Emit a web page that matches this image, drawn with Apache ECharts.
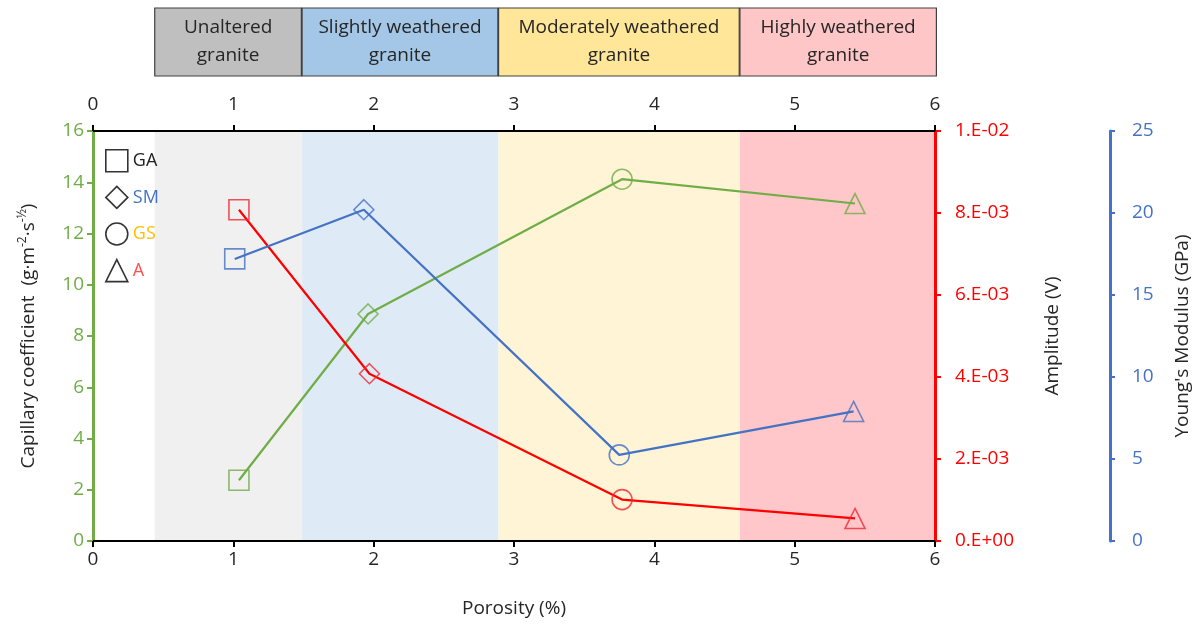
<!DOCTYPE html>
<html>
<head>
<meta charset="utf-8">
<script src="https://cdn.jsdelivr.net/npm/echarts@6/dist/echarts.min.js"></script>
<style>html,body{margin:0;padding:0;background:#fff}#c{width:1200px;height:628px}</style>
</head>
<body>
<div id="c"></div>
<script>
// ---- data ----
var samples = ['GA', 'SM', 'GS', 'A'];
var sampleSymbols = ['rect', 'diamond', 'circle', 'triangle'];
var sampleTextColors = ['#222222', '#4472C4', '#FFC000', '#FF5050'];

var capPorosity = [1.04, 1.96, 3.77, 5.43];
var capValues = [2.37, 8.86, 14.12, 13.17];

var ampPorosity = [1.04, 1.97, 3.77, 5.43];
var ampValues = [8.08e-3, 4.08e-3, 1.01e-3, 0.55e-3];

var ymPorosity = [1.01, 1.93, 3.75, 5.42];
var ymValues = [17.2, 20.2, 5.25, 7.9];

var stageNames = ['Unaltered\ngranite', 'Slightly weathered\ngranite', 'Moderately weathered\ngranite', 'Highly weathered\ngranite'];
var stageEdges = [0.44, 1.49, 2.89, 4.61, 6.0];
var stageBoxColors = ['#BFBFBF', '#A4C7E7', '#FFE699', '#FFC6C8'];
var stageBandColors = ['#F0F0F0', '#DEEBF7', '#FFF4D6', '#FFC7C9'];

var ampTickLabels = ['0.E+00', '2.E-03', '4.E-03', '6.E-03', '8.E-03', '1.E-02'];

var FONT = 'Open Sans';
var FS = 19;
var GREEN = '#70AD47', RED = '#FF0000', BLUE = '#4472C4';

function pts(xs, ys) {
  return xs.map(function (x, i) {
    return { value: [x, ys[i]], symbol: sampleSymbols[i] };
  });
}

var bandAreas = stageNames.map(function (n, i) {
  return [{ xAxis: stageEdges[i], itemStyle: { color: stageBandColors[i] } }, { xAxis: stageEdges[i + 1] }];
});

var boxData = stageNames.map(function (n, i) {
  return { value: [stageEdges[i], stageEdges[i + 1] + (i === 3 ? 0.01 : -0.005)], name: n, color: stageBoxColors[i] };
});

var chart = echarts.init(document.getElementById('c'), null, { renderer: 'canvas' });

function lineSeries(name, xs, ys, yIdx, color, markerColor, extra) {
  var s = {
    name: name,
    type: 'line',
    xAxisIndex: 0,
    yAxisIndex: yIdx,
    data: pts(xs, ys),
    symbolSize: 20,
    showAllSymbol: true,
    lineStyle: { color: color, width: 2.2 },
    itemStyle: { color: 'rgba(0,0,0,0)', borderColor: markerColor, borderWidth: 1.6 },
    emphasis: { disabled: true },
    z: 3
  };
  if (extra) for (var k in extra) s[k] = extra[k];
  return s;
}

var series = [
  lineSeries('Capillary', capPorosity, capValues, 0, GREEN, 'rgba(112,173,71,0.8)', {
    markArea: { silent: true, data: bandAreas, z: 0 }
  }),
  lineSeries('Amplitude', ampPorosity, ampValues, 1, RED, 'rgba(240,40,50,0.8)'),
  lineSeries('Young', ymPorosity, ymValues, 2, BLUE, 'rgba(68,114,196,0.8)'),
  {
    type: 'custom',
    xAxisIndex: 2,
    yAxisIndex: 3,
    data: boxData,
    silent: true,
    renderItem: function (params, api) {
      var d = boxData[params.dataIndex];
      var p0 = api.coord([api.value(0), 1]);
      var p1 = api.coord([api.value(1), 0]);
      return {
        type: 'rect',
        shape: { x: p0[0], y: p0[1], width: p1[0] - p0[0], height: p1[1] - p0[1] },
        style: { fill: d.color, stroke: '#404040', lineWidth: 1.2 },
        textContent: {
          style: { text: d.name, fill: '#262626', font: FS + 'px "' + FONT + '"', align: 'center', lineHeight: 28 }
        },
        textConfig: { position: 'inside' }
      };
    }
  }
];

samples.forEach(function (s, i) {
  series.push({ name: s, type: 'scatter', xAxisIndex: 0, yAxisIndex: 0, data: [], symbol: sampleSymbols[i] });
});

var option = {
  backgroundColor: '#ffffff',
  animation: false,
  textStyle: { fontFamily: FONT },
  grid: [
    { left: 93, right: 265, top: 131, bottom: 87, containLabel: false },
    { left: 93, right: 265, top: 8, height: 68, containLabel: false }
  ],
  legend: {
    orient: 'vertical',
    left: 100,
    top: 144,
    itemWidth: 22,
    itemHeight: 22,
    itemGap: 13,
    selectedMode: false,
    data: samples.map(function (s, i) {
      return {
        name: s,
        icon: sampleSymbols[i],
        itemStyle: { color: 'rgba(0,0,0,0)', borderColor: '#000', borderWidth: 1.6 },
        textStyle: { color: sampleTextColors[i], fontSize: 18, fontFamily: FONT }
      };
    })
  },
  xAxis: [
    {
      type: 'value', gridIndex: 0, position: 'bottom', min: 0, max: 6, interval: 1,
      name: 'Porosity (%)', nameLocation: 'middle', nameGap: 58,
      nameTextStyle: { color: '#262626', fontSize: FS, fontFamily: FONT },
      axisLine: { show: true, onZero: false, lineStyle: { color: '#000', width: 2 } },
      axisTick: { show: true, inside: false, length: 6, lineStyle: { color: '#000', width: 2 } },
      axisLabel: { color: '#262626', fontSize: FS, margin: 9, fontFamily: FONT },
      splitLine: { show: false }
    },
    {
      type: 'value', gridIndex: 0, position: 'top', min: 0, max: 6, interval: 1,
      axisLine: { show: true, onZero: false, lineStyle: { color: '#000', width: 2 } },
      axisTick: { show: true, inside: false, length: 6, lineStyle: { color: '#000', width: 2 } },
      axisLabel: { color: '#262626', fontSize: FS, margin: 17, fontFamily: FONT },
      splitLine: { show: false }
    },
    {
      type: 'value', gridIndex: 1, min: 0, max: 6, show: false
    }
  ],
  yAxis: [
    {
      type: 'value', gridIndex: 0, position: 'left', min: 0, max: 16, interval: 2,
      name: '{a|Capillary coefficient  (g·m}{s|-2}{a|·s}{s|-½}{a|)}',
      nameLocation: 'middle', nameGap: 52,
      nameTextStyle: {
        rich: {
          a: { color: '#262626', fontSize: FS, fontFamily: FONT, lineHeight: 24 },
          s: { color: '#262626', fontSize: 12, fontFamily: FONT, lineHeight: 24, verticalAlign: 'top', padding: [0, 0, 10, 0] }
        }
      },
      axisLine: { show: true, onZero: false, lineStyle: { color: GREEN, width: 3 } },
      axisTick: { show: true, inside: false, length: 6, lineStyle: { color: GREEN, width: 2 } },
      axisLabel: { color: GREEN, fontSize: FS, margin: 9, fontFamily: FONT },
      splitLine: { show: false }
    },
    {
      type: 'value', gridIndex: 0, position: 'right', min: 0, max: 0.01, interval: 0.002,
      name: 'Amplitude (V)', nameLocation: 'middle', nameGap: 108,
      nameTextStyle: { color: '#262626', fontSize: FS, fontFamily: FONT },
      axisLine: { show: true, onZero: false, lineStyle: { color: RED, width: 3 } },
      axisTick: { show: true, inside: false, length: 6, lineStyle: { color: RED, width: 2 } },
      axisLabel: {
        color: RED, fontSize: FS, margin: 20, fontFamily: FONT,
        formatter: function (v) { return ampTickLabels[Math.round(v / 0.002)]; }
      },
      splitLine: { show: false }
    },
    {
      type: 'value', gridIndex: 0, position: 'right', offset: 175, min: 0, max: 25, interval: 5,
      name: "Young's Modulus (GPa)", nameLocation: 'middle', nameGap: 63,
      nameTextStyle: { color: '#262626', fontSize: FS, fontFamily: FONT },
      axisLine: { show: true, onZero: false, lineStyle: { color: BLUE, width: 3 } },
      axisTick: { show: true, inside: false, length: 5, lineStyle: { color: BLUE, width: 2 } },
      axisLabel: { color: BLUE, fontSize: FS, margin: 22, fontFamily: FONT },
      splitLine: { show: false }
    },
    {
      type: 'value', gridIndex: 1, min: 0, max: 1, show: false
    }
  ],
  series: series
};

chart.setOption(option);
</script>
</body>
</html>
